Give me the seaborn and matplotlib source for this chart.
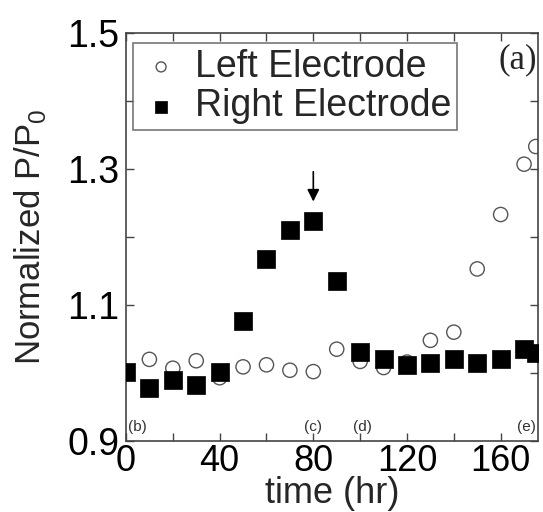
import matplotlib
matplotlib.use("Agg")
import matplotlib.pyplot as plt
import seaborn as sns
import pandas as pd

# time points (hr) and normalized power for each electrode
left_time = [0, 10, 20, 30, 40, 50, 60, 70, 80, 90, 100, 110, 120, 130, 140, 150, 160, 170, 175]
left_power = [1.000, 1.020, 1.007, 1.018, 0.993, 1.009, 1.012, 1.004, 1.002, 1.035, 1.017,
              1.008, 1.016, 1.048, 1.060, 1.153, 1.233, 1.307, 1.333]
right_time = [0, 10, 20, 30, 40, 50, 60, 70, 80, 90, 100, 110, 120, 130, 140, 150, 160, 170, 175]
right_power = [1.001, 0.978, 0.989, 0.982, 1.001, 1.077, 1.168, 1.210, 1.223, 1.135, 1.031,
               1.021, 1.012, 1.014, 1.020, 1.014, 1.020, 1.035, 1.029]

x_ticks = [0, 40, 80, 120, 160]
y_ticks = [0.9, 1.1, 1.3, 1.5]
panel_labels = ["(b)", "(c)", "(d)", "(e)"]
panel_x = [5, 80, 101, 171]

left_df = pd.DataFrame({"time": left_time, "power": left_power})
right_df = pd.DataFrame({"time": right_time, "power": right_power})

sns.set_style("ticks")
plt.rcParams["font.family"] = ["Liberation Sans", "DejaVu Sans"]
plt.rcParams["mathtext.fontset"] = "custom"
plt.rcParams["mathtext.rm"] = "Liberation Sans"

fig = plt.figure(figsize=(5.43, 5.12), dpi=100)
ax = fig.add_axes([0.232, 0.1387, 0.759, 0.797])

sns.scatterplot(data=left_df, x="time", y="power", ax=ax, marker="o", s=105,
                facecolor="none", edgecolor="#555555", linewidth=1.0,
                label="Left Electrode", zorder=2)
sns.scatterplot(data=right_df, x="time", y="power", ax=ax, marker="s", s=150,
                color="black", edgecolor="black", linewidth=0.5,
                label="Right Electrode", zorder=3)

ax.set_xlim(0, 176)
ax.set_ylim(0.9, 1.5)
ax.set_xticks(range(0, 177, 20))
ax.set_xticklabels([str(t) if t in x_ticks else "" for t in range(0, 177, 20)])
yt = [0.9, 1.0, 1.1, 1.2, 1.3, 1.4, 1.5]
ax.set_yticks(yt)
ax.set_yticklabels([f"{v:.1f}" if round(v, 1) in y_ticks else "" for v in yt])
ax.tick_params(direction="in", top=True, right=True, length=6, width=1,
               labelsize=27, colors="#444444", labelcolor="black")
ax.tick_params(axis="y", pad=5)
ax.tick_params(axis="x", pad=2, labelsize=26)
for s in ax.spines.values():
    s.set_color("#444444")
    s.set_linewidth(1.2)

ax.set_xlabel("time (hr)", fontsize=26, labelpad=-2)
ax.set_ylabel(r"Normalized P/P$_\mathregular{0}$", fontsize=25)
ax.yaxis.set_label_coords(-0.19, 0.5)

for lab, xp in zip(panel_labels, panel_x):
    ax.text(xp, 0.92, lab, ha="center", va="center", fontsize=11, color="#333333")

ax.annotate("", xy=(80, 1.248), xytext=(80, 1.3),
            arrowprops=dict(arrowstyle="-|>", color="black", lw=1.2, mutation_scale=18))

ax.text(0.998, 0.935, "(a)", transform=ax.transAxes, ha="right", va="center",
        fontsize=25, family="Liberation Serif")

leg = ax.legend(loc="upper left", bbox_to_anchor=(0.017, 0.975), borderaxespad=0,
                fontsize=27, frameon=True, fancybox=False, edgecolor="#555555",
                handletextpad=0.3, borderpad=0.15, labelspacing=0.1,
                handlelength=1.2, markerscale=0.7)
leg.get_frame().set_linewidth(1.2)

fig.savefig("out.png", dpi=100)
